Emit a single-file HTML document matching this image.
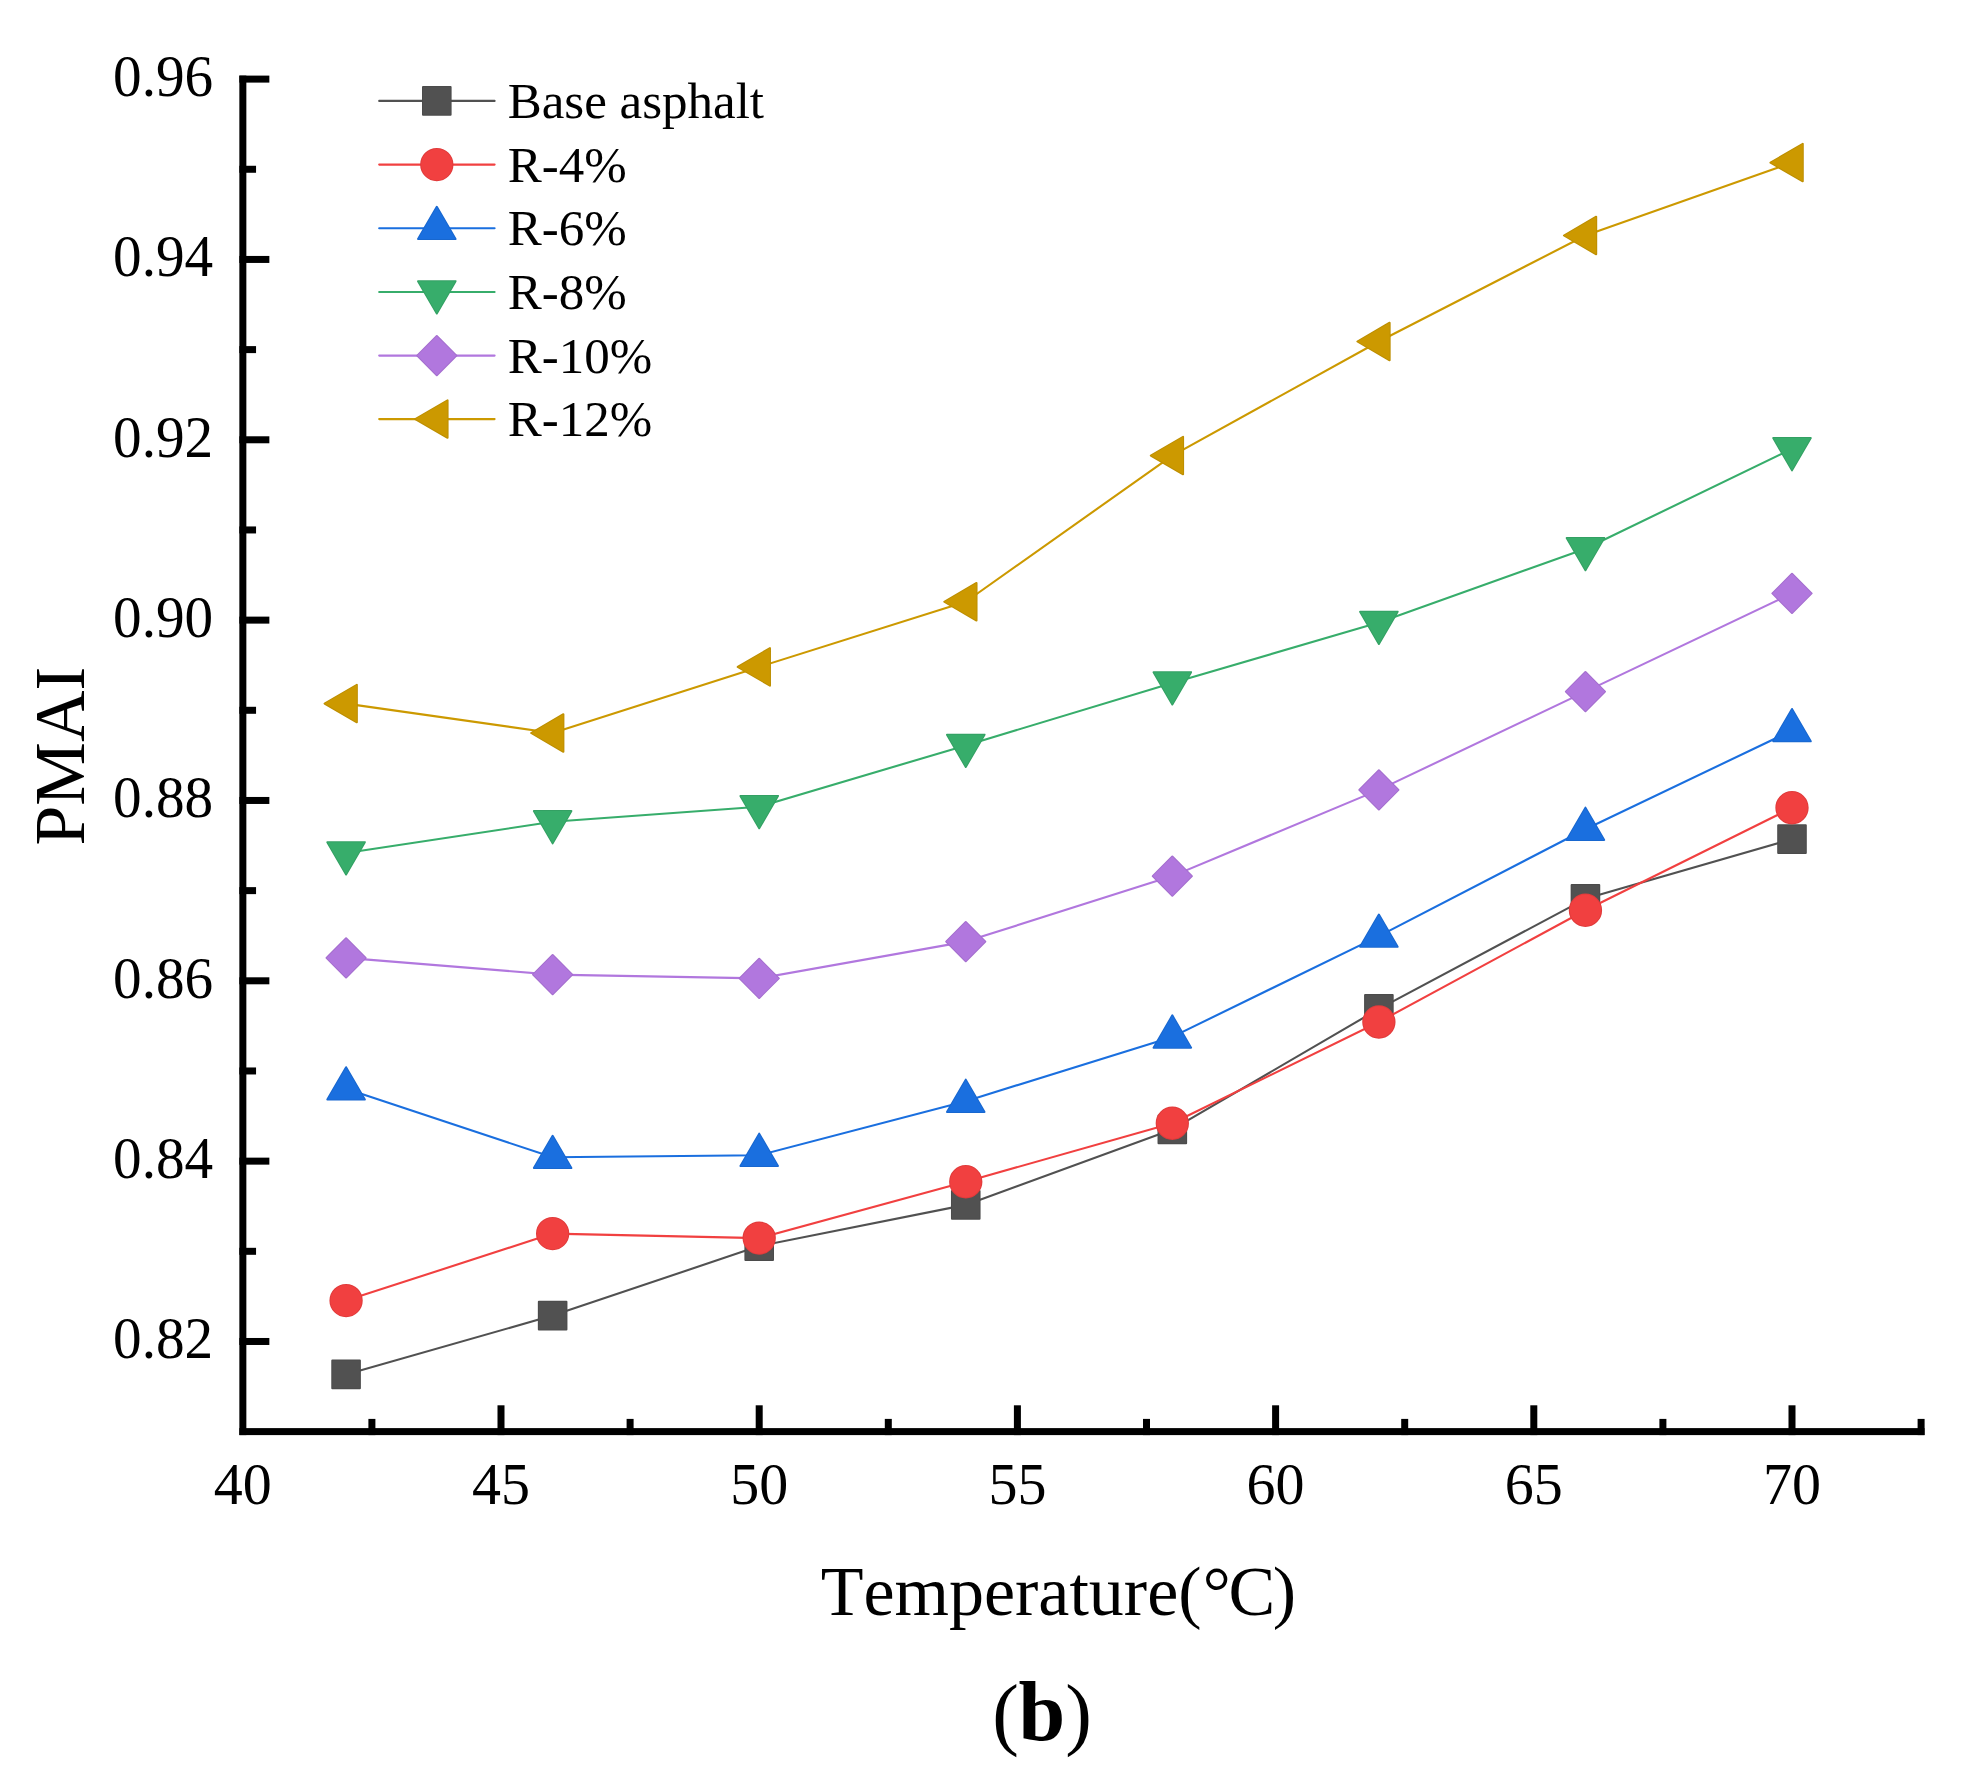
<!DOCTYPE html>
<html lang="en"><head><meta charset="utf-8"><title>PMAI vs Temperature (b)</title>
<style>html,body{margin:0;padding:0;background:#fff;overflow:hidden}svg{display:block}text{font-family:"Liberation Serif",serif;fill:#000;font-kerning:none}</style></head><body>
<svg width="1972" height="1788" viewBox="0 0 1972 1788">
<rect width="1972" height="1788" fill="#fff"/>
<polyline points="346.08,1374.4 552.64,1315.6 759.2,1246.1 965.76,1204.9 1172.32,1129.4 1378.88,1008.85 1585.44,898.85 1792,839.1" stroke="#515151" fill="none" stroke-width="2.1" stroke-linecap="round" stroke-linejoin="round"/>
<rect x="332.28" y="1360.6" width="27.6" height="27.6" fill="#515151" stroke="#4B4B4B" stroke-width="2" stroke-linejoin="round" paint-order="stroke"/>
<rect x="538.84" y="1301.8" width="27.6" height="27.6" fill="#515151" stroke="#4B4B4B" stroke-width="2" stroke-linejoin="round" paint-order="stroke"/>
<rect x="745.4" y="1232.3" width="27.6" height="27.6" fill="#515151" stroke="#4B4B4B" stroke-width="2" stroke-linejoin="round" paint-order="stroke"/>
<rect x="951.96" y="1191.1" width="27.6" height="27.6" fill="#515151" stroke="#4B4B4B" stroke-width="2" stroke-linejoin="round" paint-order="stroke"/>
<rect x="1158.52" y="1115.6" width="27.6" height="27.6" fill="#515151" stroke="#4B4B4B" stroke-width="2" stroke-linejoin="round" paint-order="stroke"/>
<rect x="1365.08" y="995.05" width="27.6" height="27.6" fill="#515151" stroke="#4B4B4B" stroke-width="2" stroke-linejoin="round" paint-order="stroke"/>
<rect x="1571.64" y="885.05" width="27.6" height="27.6" fill="#515151" stroke="#4B4B4B" stroke-width="2" stroke-linejoin="round" paint-order="stroke"/>
<rect x="1778.2" y="825.3" width="27.6" height="27.6" fill="#515151" stroke="#4B4B4B" stroke-width="2" stroke-linejoin="round" paint-order="stroke"/>
<polyline points="346.08,1300.6 552.64,1233.6 759.2,1238.1 965.76,1181.75 1172.32,1123.25 1378.88,1022 1585.44,910.25 1792,807.75" stroke="#F14040" fill="none" stroke-width="2.1" stroke-linecap="round" stroke-linejoin="round"/>
<circle cx="346.08" cy="1300.6" r="15.65" fill="#F14040" stroke="#E03B3B" stroke-width="2" stroke-linejoin="round" paint-order="stroke"/>
<circle cx="552.64" cy="1233.6" r="15.65" fill="#F14040" stroke="#E03B3B" stroke-width="2" stroke-linejoin="round" paint-order="stroke"/>
<circle cx="759.2" cy="1238.1" r="15.65" fill="#F14040" stroke="#E03B3B" stroke-width="2" stroke-linejoin="round" paint-order="stroke"/>
<circle cx="965.76" cy="1181.75" r="15.65" fill="#F14040" stroke="#E03B3B" stroke-width="2" stroke-linejoin="round" paint-order="stroke"/>
<circle cx="1172.32" cy="1123.25" r="15.65" fill="#F14040" stroke="#E03B3B" stroke-width="2" stroke-linejoin="round" paint-order="stroke"/>
<circle cx="1378.88" cy="1022" r="15.65" fill="#F14040" stroke="#E03B3B" stroke-width="2" stroke-linejoin="round" paint-order="stroke"/>
<circle cx="1585.44" cy="910.25" r="15.65" fill="#F14040" stroke="#E03B3B" stroke-width="2" stroke-linejoin="round" paint-order="stroke"/>
<circle cx="1792" cy="807.75" r="15.65" fill="#F14040" stroke="#E03B3B" stroke-width="2" stroke-linejoin="round" paint-order="stroke"/>
<polyline points="346.08,1088.75 552.64,1157.3 759.2,1155.2 965.76,1101.2 1172.32,1036.9 1378.88,936.1 1585.44,829.2 1792,730.5" stroke="#1A6FDF" fill="none" stroke-width="2.1" stroke-linecap="round" stroke-linejoin="round"/>
<polygon points="346.08,1067.22 364.85,1099.52 327.31,1099.52" fill="#1A6FDF" stroke="#1867CF" stroke-width="2" stroke-linejoin="round" paint-order="stroke"/>
<polygon points="552.64,1135.77 571.41,1168.07 533.87,1168.07" fill="#1A6FDF" stroke="#1867CF" stroke-width="2" stroke-linejoin="round" paint-order="stroke"/>
<polygon points="759.2,1133.67 777.97,1165.97 740.43,1165.97" fill="#1A6FDF" stroke="#1867CF" stroke-width="2" stroke-linejoin="round" paint-order="stroke"/>
<polygon points="965.76,1079.67 984.53,1111.97 946.99,1111.97" fill="#1A6FDF" stroke="#1867CF" stroke-width="2" stroke-linejoin="round" paint-order="stroke"/>
<polygon points="1172.32,1015.37 1191.09,1047.67 1153.55,1047.67" fill="#1A6FDF" stroke="#1867CF" stroke-width="2" stroke-linejoin="round" paint-order="stroke"/>
<polygon points="1378.88,914.57 1397.65,946.87 1360.11,946.87" fill="#1A6FDF" stroke="#1867CF" stroke-width="2" stroke-linejoin="round" paint-order="stroke"/>
<polygon points="1585.44,807.67 1604.21,839.97 1566.67,839.97" fill="#1A6FDF" stroke="#1867CF" stroke-width="2" stroke-linejoin="round" paint-order="stroke"/>
<polygon points="1792,708.97 1810.77,741.27 1773.23,741.27" fill="#1A6FDF" stroke="#1867CF" stroke-width="2" stroke-linejoin="round" paint-order="stroke"/>
<polyline points="346.08,853 552.64,821.8 759.2,806.75 965.76,745.4 1172.32,683 1378.88,622.5 1585.44,548.75 1792,448.8" stroke="#37AD6B" fill="none" stroke-width="2.1" stroke-linecap="round" stroke-linejoin="round"/>
<polygon points="346.08,874.53 364.85,842.23 327.31,842.23" fill="#37AD6B" stroke="#33A063" stroke-width="2" stroke-linejoin="round" paint-order="stroke"/>
<polygon points="552.64,843.33 571.41,811.03 533.87,811.03" fill="#37AD6B" stroke="#33A063" stroke-width="2" stroke-linejoin="round" paint-order="stroke"/>
<polygon points="759.2,828.28 777.97,795.98 740.43,795.98" fill="#37AD6B" stroke="#33A063" stroke-width="2" stroke-linejoin="round" paint-order="stroke"/>
<polygon points="965.76,766.93 984.53,734.63 946.99,734.63" fill="#37AD6B" stroke="#33A063" stroke-width="2" stroke-linejoin="round" paint-order="stroke"/>
<polygon points="1172.32,704.53 1191.09,672.23 1153.55,672.23" fill="#37AD6B" stroke="#33A063" stroke-width="2" stroke-linejoin="round" paint-order="stroke"/>
<polygon points="1378.88,644.03 1397.65,611.73 1360.11,611.73" fill="#37AD6B" stroke="#33A063" stroke-width="2" stroke-linejoin="round" paint-order="stroke"/>
<polygon points="1585.44,570.28 1604.21,537.98 1566.67,537.98" fill="#37AD6B" stroke="#33A063" stroke-width="2" stroke-linejoin="round" paint-order="stroke"/>
<polygon points="1792,470.33 1810.77,438.03 1773.23,438.03" fill="#37AD6B" stroke="#33A063" stroke-width="2" stroke-linejoin="round" paint-order="stroke"/>
<polyline points="346.08,957.9 552.64,974.6 759.2,978.4 965.76,941.6 1172.32,876.1 1378.88,789.9 1585.44,691.6 1792,593.4" stroke="#B177DE" fill="none" stroke-width="2.1" stroke-linecap="round" stroke-linejoin="round"/>
<polygon points="326.48,957.9 346.08,938.3 365.68,957.9 346.08,977.5" fill="#B177DE" stroke="#A46ECE" stroke-width="2" stroke-linejoin="round" paint-order="stroke"/>
<polygon points="533.04,974.6 552.64,955 572.24,974.6 552.64,994.2" fill="#B177DE" stroke="#A46ECE" stroke-width="2" stroke-linejoin="round" paint-order="stroke"/>
<polygon points="739.6,978.4 759.2,958.8 778.8,978.4 759.2,998" fill="#B177DE" stroke="#A46ECE" stroke-width="2" stroke-linejoin="round" paint-order="stroke"/>
<polygon points="946.16,941.6 965.76,922 985.36,941.6 965.76,961.2" fill="#B177DE" stroke="#A46ECE" stroke-width="2" stroke-linejoin="round" paint-order="stroke"/>
<polygon points="1152.72,876.1 1172.32,856.5 1191.92,876.1 1172.32,895.7" fill="#B177DE" stroke="#A46ECE" stroke-width="2" stroke-linejoin="round" paint-order="stroke"/>
<polygon points="1359.28,789.9 1378.88,770.3 1398.48,789.9 1378.88,809.5" fill="#B177DE" stroke="#A46ECE" stroke-width="2" stroke-linejoin="round" paint-order="stroke"/>
<polygon points="1565.84,691.6 1585.44,672 1605.04,691.6 1585.44,711.2" fill="#B177DE" stroke="#A46ECE" stroke-width="2" stroke-linejoin="round" paint-order="stroke"/>
<polygon points="1772.4,593.4 1792,573.8 1811.6,593.4 1792,613" fill="#B177DE" stroke="#A46ECE" stroke-width="2" stroke-linejoin="round" paint-order="stroke"/>
<polyline points="346.08,703.6 552.64,733 759.2,666.9 965.76,601.75 1172.32,455.6 1378.88,341.5 1585.44,235.5 1792,162.6" stroke="#CC9900" fill="none" stroke-width="2.1" stroke-linecap="round" stroke-linejoin="round"/>
<polygon points="324.55,703.6 356.85,684.83 356.85,722.37" fill="#CC9900" stroke="#BD8E00" stroke-width="2" stroke-linejoin="round" paint-order="stroke"/>
<polygon points="531.11,733 563.41,714.23 563.41,751.77" fill="#CC9900" stroke="#BD8E00" stroke-width="2" stroke-linejoin="round" paint-order="stroke"/>
<polygon points="737.67,666.9 769.97,648.13 769.97,685.67" fill="#CC9900" stroke="#BD8E00" stroke-width="2" stroke-linejoin="round" paint-order="stroke"/>
<polygon points="944.23,601.75 976.53,582.98 976.53,620.52" fill="#CC9900" stroke="#BD8E00" stroke-width="2" stroke-linejoin="round" paint-order="stroke"/>
<polygon points="1150.79,455.6 1183.09,436.83 1183.09,474.37" fill="#CC9900" stroke="#BD8E00" stroke-width="2" stroke-linejoin="round" paint-order="stroke"/>
<polygon points="1357.35,341.5 1389.65,322.73 1389.65,360.27" fill="#CC9900" stroke="#BD8E00" stroke-width="2" stroke-linejoin="round" paint-order="stroke"/>
<polygon points="1563.91,235.5 1596.21,216.73 1596.21,254.27" fill="#CC9900" stroke="#BD8E00" stroke-width="2" stroke-linejoin="round" paint-order="stroke"/>
<polygon points="1770.47,162.6 1802.77,143.83 1802.77,181.37" fill="#CC9900" stroke="#BD8E00" stroke-width="2" stroke-linejoin="round" paint-order="stroke"/>
<g fill="#000">
<rect x="239.35" y="75.6" width="7" height="1359.5"/>
<rect x="239.35" y="1428.1" width="1685.15" height="7"/>
<rect x="239.35" y="75.6" width="30" height="7"/>
<rect x="239.35" y="165.77" width="16.7" height="7"/>
<rect x="239.35" y="255.94" width="30" height="7"/>
<rect x="239.35" y="346.11" width="16.7" height="7"/>
<rect x="239.35" y="436.28" width="30" height="7"/>
<rect x="239.35" y="526.45" width="16.7" height="7"/>
<rect x="239.35" y="616.62" width="30" height="7"/>
<rect x="239.35" y="706.79" width="16.7" height="7"/>
<rect x="239.35" y="796.96" width="30" height="7"/>
<rect x="239.35" y="887.13" width="16.7" height="7"/>
<rect x="239.35" y="977.3" width="30" height="7"/>
<rect x="239.35" y="1067.47" width="16.7" height="7"/>
<rect x="239.35" y="1157.64" width="30" height="7"/>
<rect x="239.35" y="1247.81" width="16.7" height="7"/>
<rect x="239.35" y="1337.98" width="30" height="7"/>
<rect x="368.4" y="1418.9" width="7" height="16.2"/>
<rect x="497.5" y="1405.3" width="7" height="29.8"/>
<rect x="626.6" y="1418.9" width="7" height="16.2"/>
<rect x="755.7" y="1405.3" width="7" height="29.8"/>
<rect x="884.8" y="1418.9" width="7" height="16.2"/>
<rect x="1013.9" y="1405.3" width="7" height="29.8"/>
<rect x="1143" y="1418.9" width="7" height="16.2"/>
<rect x="1272.1" y="1405.3" width="7" height="29.8"/>
<rect x="1401.2" y="1418.9" width="7" height="16.2"/>
<rect x="1530.3" y="1405.3" width="7" height="29.8"/>
<rect x="1659.4" y="1418.9" width="7" height="16.2"/>
<rect x="1788.5" y="1405.3" width="7" height="29.8"/>
<rect x="1917.6" y="1418.9" width="7" height="16.2"/>
</g>
<g font-size="58">
<text transform="translate(213.2,96.1) scale(0.987,1.026)" text-anchor="end">0.96</text>
<text transform="translate(213.2,276.44) scale(0.987,1.026)" text-anchor="end">0.94</text>
<text transform="translate(213.2,456.78) scale(0.987,1.026)" text-anchor="end">0.92</text>
<text transform="translate(213.2,637.12) scale(0.987,1.026)" text-anchor="end">0.90</text>
<text transform="translate(213.2,817.46) scale(0.987,1.026)" text-anchor="end">0.88</text>
<text transform="translate(213.2,997.8) scale(0.987,1.026)" text-anchor="end">0.86</text>
<text transform="translate(213.2,1178.14) scale(0.987,1.026)" text-anchor="end">0.84</text>
<text transform="translate(213.2,1358.48) scale(0.987,1.026)" text-anchor="end">0.82</text>
<text transform="translate(242.8,1503.8) scale(1,1.026)" text-anchor="middle">40</text>
<text transform="translate(501,1503.8) scale(1,1.026)" text-anchor="middle">45</text>
<text transform="translate(759.2,1503.8) scale(1,1.026)" text-anchor="middle">50</text>
<text transform="translate(1017.4,1503.8) scale(1,1.026)" text-anchor="middle">55</text>
<text transform="translate(1275.6,1503.8) scale(1,1.026)" text-anchor="middle">60</text>
<text transform="translate(1533.8,1503.8) scale(1,1.026)" text-anchor="middle">65</text>
<text transform="translate(1792,1503.8) scale(1,1.026)" text-anchor="middle">70</text>
</g>
<text font-size="71.5" transform="translate(83.8,756) rotate(-90)" text-anchor="middle">PMAI</text>
<text font-size="70" x="820.7" y="1614.9">Temperature(<tspan x="1202.8">°</tspan><tspan x="1228.6">C</tspan><tspan x="1272.8">)</tspan></text>
<text font-size="80" x="992.2" y="1739.6">(<tspan x="1018.4" font-weight="bold" font-size="84">b</tspan><tspan x="1065.2">)</tspan></text>
<g font-size="51">
<line x1="379.2" y1="100.9" x2="494.6" y2="100.9" stroke="#515151" stroke-width="2.1" stroke-linecap="round"/>
<rect x="423" y="87.1" width="27.6" height="27.6" fill="#515151" stroke="#4B4B4B" stroke-width="2" stroke-linejoin="round" paint-order="stroke"/>
<text x="507.7" y="117.8">Base asphalt</text>
<line x1="379.2" y1="164.6" x2="494.6" y2="164.6" stroke="#F14040" stroke-width="2.1" stroke-linecap="round"/>
<circle cx="436.8" cy="164.6" r="15.65" fill="#F14040" stroke="#E03B3B" stroke-width="2" stroke-linejoin="round" paint-order="stroke"/>
<text x="507.7" y="181.5">R-4%</text>
<line x1="379.2" y1="228.3" x2="494.6" y2="228.3" stroke="#1A6FDF" stroke-width="2.1" stroke-linecap="round"/>
<polygon points="436.8,206.77 455.57,239.07 418.03,239.07" fill="#1A6FDF" stroke="#1867CF" stroke-width="2" stroke-linejoin="round" paint-order="stroke"/>
<text x="507.7" y="245.2">R-6%</text>
<line x1="379.2" y1="292" x2="494.6" y2="292" stroke="#37AD6B" stroke-width="2.1" stroke-linecap="round"/>
<polygon points="436.8,313.53 455.57,281.23 418.03,281.23" fill="#37AD6B" stroke="#33A063" stroke-width="2" stroke-linejoin="round" paint-order="stroke"/>
<text x="507.7" y="308.9">R-8%</text>
<line x1="379.2" y1="355.6" x2="494.6" y2="355.6" stroke="#B177DE" stroke-width="2.1" stroke-linecap="round"/>
<polygon points="417.2,355.6 436.8,336 456.4,355.6 436.8,375.2" fill="#B177DE" stroke="#A46ECE" stroke-width="2" stroke-linejoin="round" paint-order="stroke"/>
<text x="507.7" y="372.5">R-10%</text>
<line x1="379.2" y1="419.1" x2="494.6" y2="419.1" stroke="#CC9900" stroke-width="2.1" stroke-linecap="round"/>
<polygon points="415.27,419.1 447.57,400.33 447.57,437.87" fill="#CC9900" stroke="#BD8E00" stroke-width="2" stroke-linejoin="round" paint-order="stroke"/>
<text x="507.7" y="436">R-12%</text>
</g>
</svg></body></html>
